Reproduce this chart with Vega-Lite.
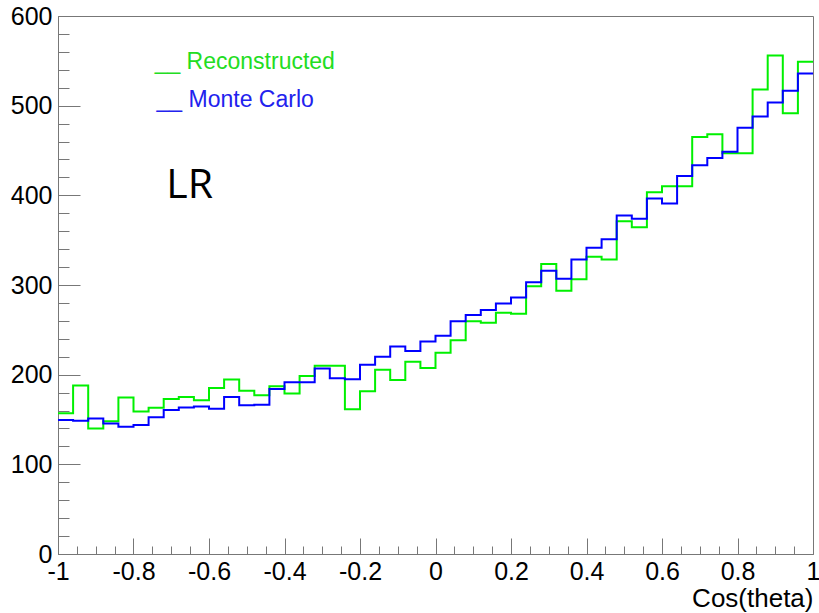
{
  "$schema": "https://vega.github.io/schema/vega-lite/v6.json",
  "width": 755,
  "height": 538,
  "autosize": {"type": "none"},
  "padding": {"left": 58, "top": 16, "right": 6, "bottom": 59},
  "background": "white",
  "config": {
    "view": {"stroke": "#777777", "strokeWidth": 1},
    "axis": {
      "grid": false,
      "domainColor": "#777777",
      "tickColor": "#777777",
      "tickWidth": 1,
      "labelFont": "Liberation Sans",
      "labelFontSize": 25,
      "labelColor": "black",
      "titleFont": "Liberation Sans",
      "titleFontSize": 26,
      "titleFontWeight": "normal",
      "titleColor": "black",
      "offset": 0,
      "labelFlush": false,
      "labelOverlap": false
    }
  },
  "datasets": {
    "reco": [
      {"x": -1, "y": 157}, {"x": -0.96, "y": 188}, {"x": -0.92, "y": 140}, {"x": -0.88, "y": 148}, {"x": -0.84, "y": 174.5},
      {"x": -0.8, "y": 159}, {"x": -0.76, "y": 163}, {"x": -0.72, "y": 173}, {"x": -0.68, "y": 175}, {"x": -0.64, "y": 171.5},
      {"x": -0.6, "y": 185}, {"x": -0.56, "y": 194.5}, {"x": -0.52, "y": 182}, {"x": -0.48, "y": 177}, {"x": -0.44, "y": 187},
      {"x": -0.4, "y": 179}, {"x": -0.36, "y": 198.5}, {"x": -0.32, "y": 210}, {"x": -0.28, "y": 210}, {"x": -0.24, "y": 161.5},
      {"x": -0.2, "y": 181.5}, {"x": -0.16, "y": 205.5}, {"x": -0.12, "y": 194}, {"x": -0.08, "y": 214.5}, {"x": -0.04, "y": 207.5},
      {"x": 0, "y": 224.5}, {"x": 0.04, "y": 238.5}, {"x": 0.08, "y": 259.5}, {"x": 0.12, "y": 258}, {"x": 0.16, "y": 269},
      {"x": 0.2, "y": 268}, {"x": 0.24, "y": 298.5}, {"x": 0.28, "y": 323.5}, {"x": 0.32, "y": 293.5}, {"x": 0.36, "y": 306.5},
      {"x": 0.4, "y": 331.5}, {"x": 0.44, "y": 328.5}, {"x": 0.48, "y": 371}, {"x": 0.52, "y": 364.5}, {"x": 0.56, "y": 403.5},
      {"x": 0.6, "y": 410}, {"x": 0.64, "y": 410}, {"x": 0.68, "y": 465}, {"x": 0.72, "y": 468}, {"x": 0.76, "y": 447},
      {"x": 0.8, "y": 447}, {"x": 0.84, "y": 518}, {"x": 0.88, "y": 556}, {"x": 0.92, "y": 491.5}, {"x": 0.96, "y": 549},
      {"x": 1, "y": 549}
    ],
    "mc": [
      {"x": -1, "y": 149.5}, {"x": -0.96, "y": 148.5}, {"x": -0.92, "y": 151}, {"x": -0.88, "y": 145.5}, {"x": -0.84, "y": 142},
      {"x": -0.8, "y": 144}, {"x": -0.76, "y": 152.5}, {"x": -0.72, "y": 160.5}, {"x": -0.68, "y": 163.5}, {"x": -0.64, "y": 164.5},
      {"x": -0.6, "y": 162}, {"x": -0.56, "y": 175}, {"x": -0.52, "y": 166}, {"x": -0.48, "y": 166.5}, {"x": -0.44, "y": 184},
      {"x": -0.4, "y": 191.5}, {"x": -0.36, "y": 191.5}, {"x": -0.32, "y": 207}, {"x": -0.28, "y": 196}, {"x": -0.24, "y": 195},
      {"x": -0.2, "y": 211}, {"x": -0.16, "y": 220}, {"x": -0.12, "y": 231.5}, {"x": -0.08, "y": 226.5}, {"x": -0.04, "y": 237},
      {"x": 0, "y": 243.5}, {"x": 0.04, "y": 259.5}, {"x": 0.08, "y": 266.5}, {"x": 0.12, "y": 272}, {"x": 0.16, "y": 279.5},
      {"x": 0.2, "y": 286}, {"x": 0.24, "y": 303}, {"x": 0.28, "y": 316}, {"x": 0.32, "y": 307}, {"x": 0.36, "y": 328.5},
      {"x": 0.4, "y": 341.5}, {"x": 0.44, "y": 351}, {"x": 0.48, "y": 377.5}, {"x": 0.52, "y": 374}, {"x": 0.56, "y": 396.5},
      {"x": 0.6, "y": 391}, {"x": 0.64, "y": 421.5}, {"x": 0.68, "y": 433.5}, {"x": 0.72, "y": 441.5}, {"x": 0.76, "y": 448.5},
      {"x": 0.8, "y": 475.5}, {"x": 0.84, "y": 488}, {"x": 0.88, "y": 503.5}, {"x": 0.92, "y": 516.5}, {"x": 0.96, "y": 536},
      {"x": 1, "y": 536}
    ],
    "anchor": [{}]
  },
  "layer": [
    {
      "data": {"name": "reco"},
      "mark": {"type": "line", "interpolate": "step-after", "color": "#00f000", "strokeWidth": 2},
      "encoding": {
        "x": {
          "field": "x", "type": "quantitative",
          "scale": {"domain": [-1, 1], "nice": false, "zero": false},
          "axis": {
            "orient": "bottom",
            "values": [-1, -0.8, -0.6, -0.4, -0.2, 0, 0.2, 0.4, 0.6, 0.8, 1],
            "format": "~g",
            "labelExpr": "replace(datum.label, '−', '-')",
            "ticks": false,
            "domain": true,
            "labelPadding": 5,
            "title": "Cos(theta)",
            "titleAnchor": "end",
            "titleAlign": "right",
            "titlePadding": 1
          }
        },
        "y": {
          "field": "y", "type": "quantitative",
          "scale": {"domain": [0, 600], "nice": false, "zero": true},
          "axis": {
            "orient": "left",
            "values": [0, 100, 200, 300, 400, 500, 600],
            "ticks": false,
            "domain": true,
            "labelPadding": 6,
            "title": null
          }
        }
      }
    },
    {
      "data": {"name": "mc"},
      "mark": {"type": "line", "interpolate": "step-after", "color": "#0000ff", "strokeWidth": 2},
      "encoding": {
        "x": {
          "field": "x", "type": "quantitative",
          "scale": {"domain": [-1, 1], "nice": false, "zero": false},
          "axis": {
            "orient": "bottom",
            "values": [-1, -0.8, -0.6, -0.4, -0.2, 0, 0.2, 0.4, 0.6, 0.8, 1],
            "labels": false,
            "domain": false,
            "ticks": true,
            "tickSize": -16,
            "title": null
          }
        },
        "y": {
          "field": "y", "type": "quantitative",
          "scale": {"domain": [0, 600], "nice": false, "zero": true},
          "axis": {
            "orient": "left",
            "values": [0, 100, 200, 300, 400, 500, 600],
            "labels": false,
            "domain": false,
            "ticks": true,
            "tickSize": -22,
            "title": null
          }
        }
      }
    },
    {
      "data": {"name": "anchor"},
      "mark": {"type": "text", "text": "__ Reconstructed", "font": "Liberation Sans", "fontSize": 23, "color": "#22dd22", "align": "left", "baseline": "alphabetic"},
      "encoding": {
        "x": {
          "datum": -0.744, "type": "quantitative",
          "scale": {"domain": [-1, 1], "nice": false, "zero": false},
          "axis": {
            "orient": "bottom",
            "values": [-0.95, -0.9, -0.85, -0.75, -0.7, -0.65, -0.55, -0.5, -0.45, -0.35, -0.3, -0.25, -0.15, -0.1, -0.05, 0.05, 0.1, 0.15, 0.25, 0.3, 0.35, 0.45, 0.5, 0.55, 0.65, 0.7, 0.75, 0.85, 0.9, 0.95],
            "labels": false,
            "domain": false,
            "ticks": true,
            "tickSize": -8,
            "title": null
          }
        },
        "y": {
          "datum": 540.5, "type": "quantitative",
          "scale": {"domain": [0, 600], "nice": false, "zero": true},
          "axis": {
            "orient": "left",
            "values": [20, 40, 60, 80, 120, 140, 160, 180, 220, 240, 260, 280, 320, 340, 360, 380, 420, 440, 460, 480, 520, 540, 560, 580],
            "labels": false,
            "domain": false,
            "ticks": true,
            "tickSize": -11,
            "title": null
          }
        }
      }
    },
    {
      "data": {"name": "anchor"},
      "mark": {"type": "text", "text": "__ Monte Carlo", "font": "Liberation Sans", "fontSize": 23, "color": "#2222ee", "align": "left", "baseline": "alphabetic"},
      "encoding": {
        "x": {"datum": -0.739, "type": "quantitative", "axis": null},
        "y": {"datum": 499, "type": "quantitative", "axis": null}
      }
    },
    {
      "data": {"name": "anchor"},
      "mark": {"type": "text", "text": "LR", "font": "Open Sans", "fontSize": 41, "color": "black", "align": "left", "baseline": "alphabetic"},
      "encoding": {
        "x": {"datum": -0.713, "type": "quantitative", "axis": null},
        "y": {"datum": 397, "type": "quantitative", "axis": null}
      }
    }
  ],
  "resolve": {"axis": {"x": "independent", "y": "independent"}}
}
